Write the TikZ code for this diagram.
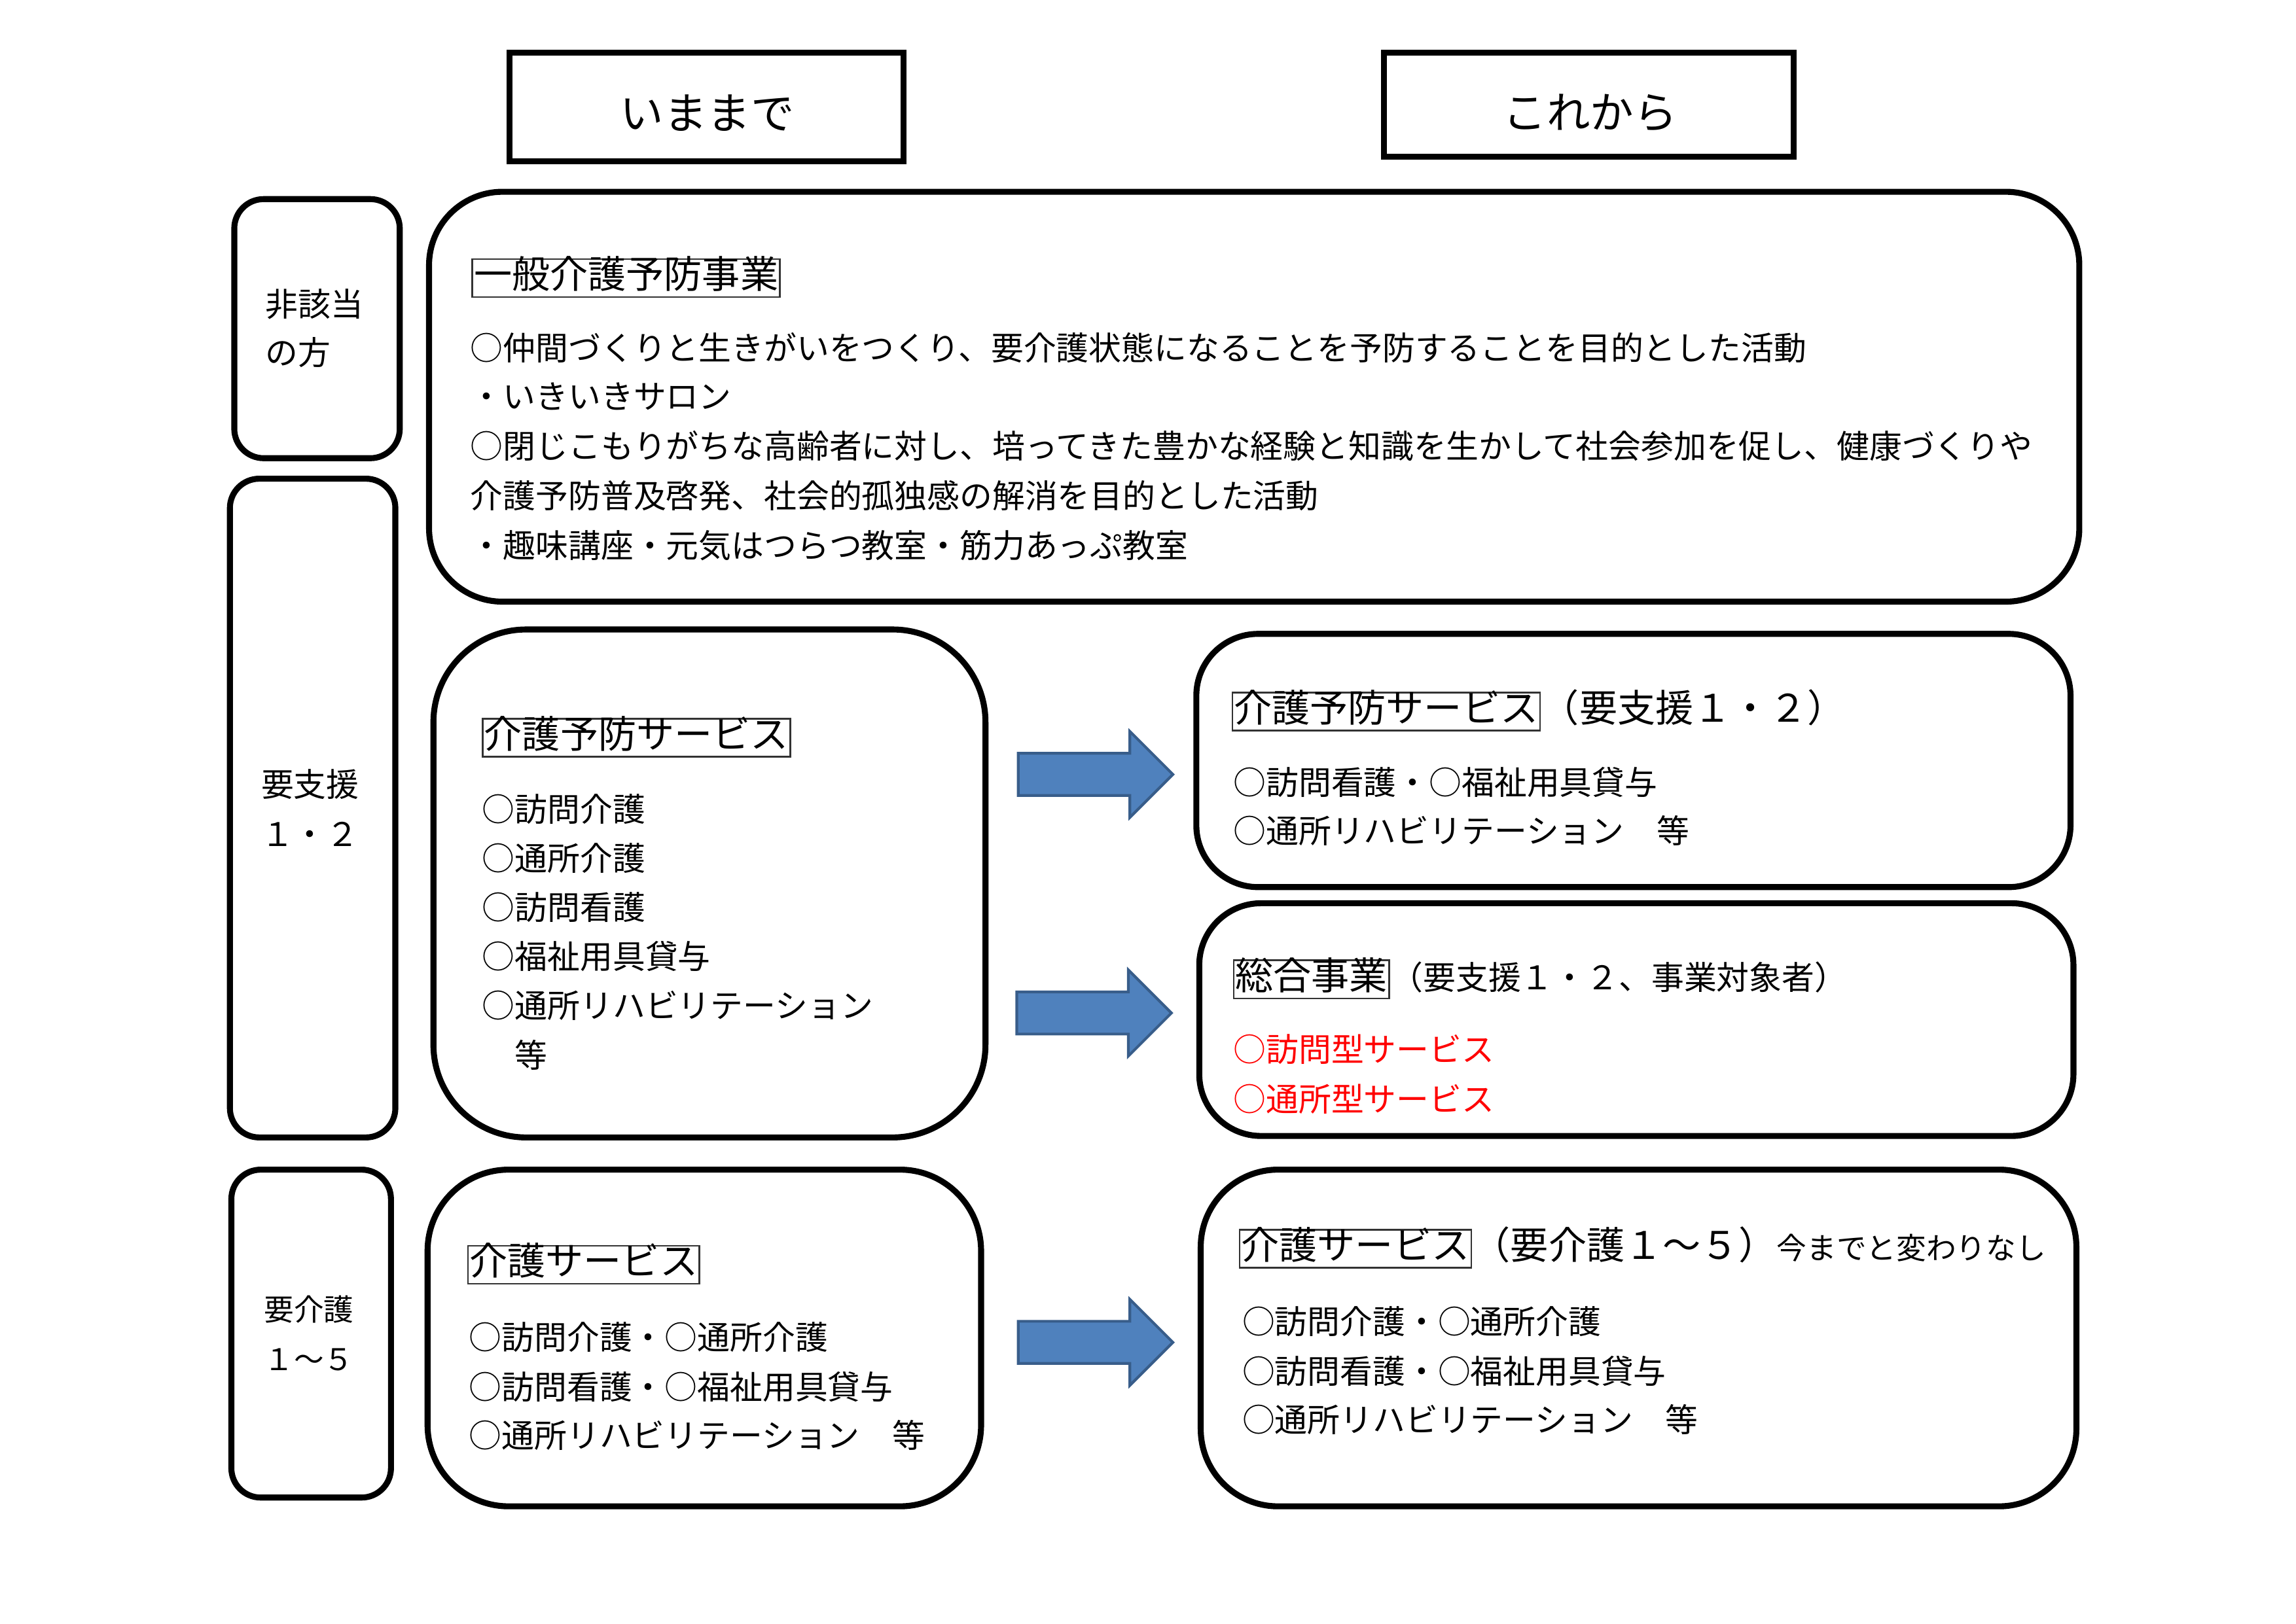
\documentclass[tikz,border=0pt]{standalone}
\usepackage{fontspec}
\setmainfont{Noto Sans CJK JP}
\usetikzlibrary{fit,positioning,shapes.arrows}

\definecolor{arrowfill}{HTML}{4F81BD}
\definecolor{arrowline}{HTML}{385D8A}

\begin{document}
\begin{tikzpicture}[x=0.01894cm, y=-0.01894cm,
	headbox/.style={draw=black, line width=2.2pt, inner sep=0pt},
	headtext/.style={inner sep=0pt, font=\fontsize{16}{19}\selectfont},
	sidebox/.style={draw=black, line width=2.2pt, rounded corners=0.38cm, inner sep=0pt},
	panel/.style={draw=black, line width=2.2pt, inner sep=0pt},
	tag/.style={draw=black!80, line width=0.6pt, inner xsep=0.6pt, inner ysep=2pt, text height=0.88em, text depth=0.12em, anchor=west, font=\fontsize{14}{16}\selectfont},
	item/.style={inner sep=0pt, anchor=west, text height=0.88em, text depth=0.12em, font=\fontsize{12}{14}\selectfont},
	bigitem/.style={item, font=\fontsize{14}{16}\selectfont},
	smallitem/.style={item, font=\fontsize{11}{13}\selectfont},
	bigarrow/.style={single arrow, draw=arrowline, fill=arrowfill, line width=1pt, minimum height=2.0cm, inner xsep=0pt, inner ysep=0.255cm, single arrow head extend=0.285cm, single arrow tip angle=90}]
	
	\useasboundingbox (0,0) rectangle (1568,1109);
	
	\node[headbox, fit={(348,36) (617,110)}] (imamade) {};
	\node[headbox, fit={(945,36) (1225,107)}] (korekara) {};
	\node[headtext] (imamadetxt) at (483,77) {いままで};
	\node[headtext] (korekaratxt) at (1086,77) {これから};
	
	\node[sidebox, fit={(160,136) (273,313)}] (higaito) {};
	\node[sidebox, fit={(157,327) (270,777)}] (yoshien) {};
	\node[sidebox, fit={(158,799) (267,1023)}] (yokaigo) {};
	
	\node[item] (hg1) at (181,209) {非該当};
	\node[item] (hg2) at (181,242) {の方};
	\node[item] (ys1) at (178,537) {要支援};
	\node[item] (ys2) at (178,571) {１・２};
	\node[smallitem] (yk1) at (180,895) {要介護};
	\node[smallitem] (yk2) at (180,929) {１～５};
	
	\node[panel, rounded corners=0.95cm, fit={(293,131) (1420,411)}] (ippan) {};
	\node[tag] (ippantag) at (322,190) {一般介護予防事業};
	\node[item] (ip1) at (321,239) {○仲間づくりと生きがいをつくり、要介護状態になることを予防することを目的とした活動};
	\node[item] (ip2) at (321,272) {・いきいきサロン};
	\node[item] (ip3) at (321,306) {○閉じこもりがちな高齢者に対し、培ってきた豊かな経験と知識を生かして社会参加を促し、健康づくりや};
	\node[item] (ip4) at (321,340) {介護予防普及啓発、社会的孤独感の解消を目的とした活動};
	\node[item] (ip5) at (321,374) {・趣味講座・元気はつらつ教室・筋力あっぷ教室};
	
	\node[panel, rounded corners=1.2cm, fit={(296,430) (673,777)}] (yobouL) {};
	\node[tag] (yobouLtag) at (329,504) {介護予防サービス};
	\foreach \t [count=\i] in {○訪問介護, ○通所介護, ○訪問看護, ○福祉用具貸与, ○通所リハビリテーション, 　等}
		\node[item] (yl\i) at (329, {554+33.6*(\i-1)}) {\t};
	
	\node[panel, rounded corners=0.8cm, fit={(817,433) (1414,606)}] (yobouR) {};
	\node[tag] (yobouRtag) at (841,486) {介護予防サービス};
	\node[bigitem, right=0pt of yobouRtag] (yobouRsub) {（要支援１・２）};
	\node[item] (yr1) at (842,536) {○訪問看護・○福祉用具貸与};
	\node[item] (yr2) at (842,569) {○通所リハビリテーション　等};
	
	\node[panel, rounded corners=0.8cm, fit={(819,617) (1416,776)}] (sogo) {};
	\node[tag] (sogotag) at (842,669) {総合事業};
	\node[item, right=0pt of sogotag] (sogosub) {（要支援１・２、事業対象者）};
	\node[item, text=red] (sg1) at (842,718) {○訪問型サービス};
	\node[item, text=red] (sg2) at (842,752) {○通所型サービス};
	
	\node[panel, rounded corners=1.05cm, fit={(292,799) (670,1029)}] (kaigoL) {};
	\node[tag] (kaigoLtag) at (319,864) {介護サービス};
	\node[item] (kl1) at (320,915) {○訪問介護・○通所介護};
	\node[item] (kl2) at (320,949) {○訪問看護・○福祉用具貸与};
	\node[item] (kl3) at (320,982) {○通所リハビリテーション　等};
	
	\node[panel, rounded corners=1.0cm, fit={(820,799) (1418,1029)}] (kaigoR) {};
	\node[tag] (kaigoRtag) at (846,853) {介護サービス};
	\node[bigitem, right=0pt of kaigoRtag] (kaigoRsub) {（要介護１～５）{\fontsize{11}{13}\selectfont 今までと変わりなし}};
	\node[item] (kr1) at (848,904) {○訪問介護・○通所介護};
	\node[item] (kr2) at (848,938) {○訪問看護・○福祉用具貸与};
	\node[item] (kr3) at (848,971) {○通所リハビリテーション　等};
	
	\node[bigarrow] (arr1) at (741,529) {};
	\node[bigarrow] (arr2) at (740,692) {};
	\node[bigarrow] (arr3) at (741,917) {};
	
\end{tikzpicture}
\end{document}
